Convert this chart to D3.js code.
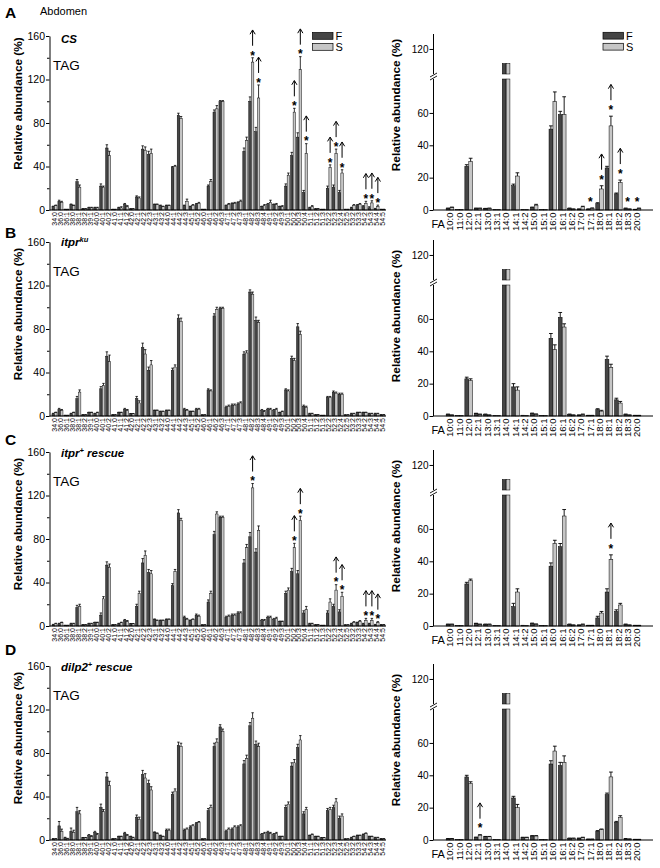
<!DOCTYPE html>
<html>
<head>
<meta charset="utf-8">
<script src="https://cdn.jsdelivr.net/npm/d3@7"></script>
<style>
body { margin: 0; background: #fff; }
svg text { font-family: "Liberation Sans", Arial, sans-serif; fill: #000; }
</style>
</head>
<body>
<svg id="fig" width="660" height="868"></svg>
<script>
// ---------- categories ----------
let tagLabels = ["34:0","36:0","36:1","38:0","38:1","38:2","39:1","40:0",
  "40:1","40:2","41:0","41:1","41:2","42:0","42:1","42:2",
  "42:3","43:1","43:2","44:0","44:1","44:2","44:3","45:1",
  "45:2","46:0","46:1","46:2","46:3","47:1","47:2","47:3",
  "48:1","48:2","48:3","48:4","49:1","49:2","49:3","50:1",
  "50:2","50:3","50:4","51:1","51:2","51:3","52:2","52:3",
  "52:4","52:5","53:2","53:3","54:2","54:3","54:4","54:5"];
let faLabels = ["10:0","11:0","12:0","12:1","13:0","13:1","14:0","14:1","14:2","15:0","15:1",
  "16:0","16:1","16:2","17:0","17:1","18:0","18:1","18:2","18:3","20:0"];
let tagTicks = [0, 40, 80, 120, 160];
let tagMinor = [20, 60, 100, 140];
let faTicksLow = [0, 20, 40, 60];
let faTicksHigh = [120];

// ---------- A : CS ----------
let tagA_F = [3, 8, 0.5, 5, 26, 1, 2, 2,   22, 57, 0.5, 2, 5, 1, 12, 56,
  51, 5, 4, 4, 39, 87, 4, 3,   5, 0.5, 22, 90, 99.6, 4, 6, 7,
  54, 100, 72, 3, 5, 5, 3, 22,   50, 67, 16, 2, 1, 0.5, 20, 21,   16, 0.5, 2, 4, 3, 2, 1, 0.5];
let tagA_S = [4, 7, 0.5, 4, 21, 1, 2, 2,   21, 50, 0.5, 2, 3, 1, 11, 55,
  52, 5, 3, 4, 40, 84, 8, 4,   6, 0.5, 26, 93, 99.6, 5, 6, 8,
  64, 136, 103, 4, 7, 5, 3, 32,   90, 129, 52, 3, 1, 0.5, 39, 52,   34, 0.5, 4, 5, 6, 6.5, 3, 0.5];
let tagA_Fe = [0.5, 1, 0.2, 0.5, 2, 0.3, 0.5, 0.5,   2, 3, 0.2, 0.5, 1, 0.3, 1, 3,
  3, 0.5, 0.5, 0.5, 1, 2, 0.5, 0.5,   1, 0.2, 1, 2, 1, 0.5, 0.5, 0.5,
  3, 4, 4, 0.5, 1, 0.5, 0.5, 2,   3, 4, 2, 0.5, 0.3, 0.2, 2, 2,   2, 0.2, 0.5, 1, 1, 1, 0.5, 0.2];
let tagA_Se = [0.5, 1, 0.2, 0.5, 2, 0.3, 0.5, 0.5,   1, 4, 0.2, 1, 1, 0.3, 1, 3,
  4, 0.5, 0.5, 0.5, 1, 2, 2, 1,   1, 0.2, 2, 3, 1, 1, 1, 1,
  3, 4, 12, 1, 2, 1, 1, 2,   3.5, 12, 9, 1, 0.3, 0.2, 2.5, 4,   3, 0.2, 1, 1, 2, 2, 1.5, 0.2];
let faA_F = [1, 0.2, 27, 1, 0.8, 0.3, 111, 15, 0.3, 1.5, 0.2, 50, 59, 1, 0.5, 0.5, 4, 26, 10, 1, 0.3];
let faA_S = [1.5, 0.2, 30, 1, 1, 0.3, 111, 21, 0.3, 3, 0.2, 67, 59, 0.5, 2, 1, 13, 52, 17, 0.5, 1];
let faA_Fe = [0.2, 0, 1, 0.2, 0.2, 0, 0, 1, 0, 0.3, 0, 2, 2, 0.2, 0.2, 0.2, 0.5, 1, 0.5, 0.2, 0.1];
let faA_Se = [0.3, 0, 2, 0.2, 0.2, 0, 0, 2, 0, 0.5, 0, 6, 11, 0.2, 0.3, 0.3, 2, 6, 1.5, 0.2, 0.2];
let tagA_marks = [33, 34, 40, 41, 42, 46, 47, 48, 52, 53, 54];
let faA_marks = [16, 17, 18];
let faA_stars = [15, 19, 20];

// ---------- B : itpr ku ----------
let tagB_F = [2, 6, 0.5, 2, 16, 1, 3, 2,   25, 55, 1, 3, 6, 2, 16, 63,
  42, 5, 4, 5, 42, 90, 6, 4,   6, 1, 24, 92, 99, 8, 10, 11,
  57, 114, 88, 5, 6, 5, 3, 24,   53, 82, 9, 2, 1, 0.5, 17, 22,   20, 1, 2, 3, 3, 2, 2, 1];
let tagB_S = [3, 5, 0.5, 3, 22, 1, 3, 3,   28, 50, 1, 3, 5, 2, 12, 57,
  47, 5, 4, 5, 45, 87, 5, 4,   6, 1, 23, 98, 99, 9, 10, 12,
  58, 112, 86, 4, 6, 6, 4, 23,   51, 75, 8, 2, 1, 0.5, 17, 21,   20, 1, 2, 3, 3, 2, 2, 1];
let tagB_Fe = [0.5, 1, 0.2, 0.5, 2, 0.3, 0.5, 0.5,   2, 4, 0.3, 0.5, 1, 0.3, 2, 4,
  3, 0.5, 0.5, 0.5, 2, 3, 1, 0.5,   1, 0.2, 1, 2, 1, 1, 1, 1,
  2, 2, 3, 1, 1, 1, 0.5, 1,   2, 3, 1, 0.5, 0.3, 0.2, 1, 1,   1, 0.2, 0.5, 0.5, 0.5, 0.5, 0.5, 0.3];
let tagB_Se = [0.5, 1, 0.2, 0.5, 2, 0.3, 0.5, 0.5,   2, 6, 0.3, 0.5, 1, 0.3, 2, 4,
  4, 0.5, 0.5, 0.5, 2, 3, 1, 0.5,   1, 0.2, 1, 2, 1, 1, 1, 1,
  2, 2, 2, 1, 1, 1, 0.5, 1,   2, 3, 1, 0.5, 0.3, 0.2, 1, 1,   1, 0.2, 0.5, 0.5, 0.5, 0.5, 0.5, 0.3];
let faB_F = [1, 0.2, 23, 1.5, 1, 0.3, 111, 18, 0.5, 1.5, 0.3, 48, 61, 1, 0.5, 0.3, 4, 35, 10, 1, 0.3];
let faB_S = [0.5, 0.2, 22, 1, 0.5, 0.3, 111, 16, 0.3, 1, 0.3, 41, 55, 0.5, 1, 0.3, 3, 30, 8, 0.5, 0.3];
let faB_Fe = [0.2, 0, 1, 0.2, 0.2, 0, 0, 2, 0, 0.3, 0, 3, 3, 0.2, 0.2, 0.1, 0.5, 2, 1, 0.2, 0.1];
let faB_Se = [0.2, 0, 1, 0.2, 0.2, 0, 0, 2, 0, 0.3, 0, 3, 2, 0.2, 0.2, 0.1, 0.5, 2, 1, 0.2, 0.1];
let tagB_marks = [];
let faB_marks = [];
let faB_stars = [];

// ---------- C : itpr+ rescue ----------
let tagC_F = [1, 2, 0.5, 2, 17, 1, 2, 3,   10, 56, 1, 2, 5, 2, 18, 58,
  49, 6, 5, 6, 37, 104, 8, 5,   10, 1, 22, 84, 100, 8, 10, 12,
  58, 82, 68, 5, 8, 6, 4, 30,   50, 48, 12, 2, 1, 0.5, 12, 18,   13, 1, 2, 3, 2, 2, 1, 1];
let tagC_S = [2, 3, 0.5, 2, 18, 1, 2, 3,   25, 54, 1, 3, 4, 2, 30, 65,
  48, 5, 5, 6, 50, 97, 6, 6,   9, 1, 30, 103, 100, 9, 10, 12,
  72, 127, 88, 5, 8, 7, 4, 33,   72, 97, 15, 2, 1, 0.5, 22, 33,   27, 1, 3, 4, 5, 5, 3, 1];
let tagC_Fe = [0.5, 0.5, 0.2, 0.5, 2, 0.3, 0.5, 0.5,   2, 3, 0.3, 0.5, 1, 0.3, 2, 4,
  3, 0.5, 0.5, 0.5, 2, 3, 1, 0.5,   1, 0.2, 2, 3, 1, 1, 1, 1,
  3, 4, 3, 1, 1, 1, 0.5, 2,   3, 3, 2, 0.5, 0.3, 0.2, 2, 2,   2, 0.2, 0.5, 0.5, 0.5, 0.5, 0.5, 0.3];
let tagC_Se = [0.5, 0.5, 0.2, 0.5, 2, 0.3, 0.5, 0.5,   2, 3, 0.3, 0.5, 1, 0.3, 2, 4,
  3, 0.5, 0.5, 0.5, 2, 2, 1, 0.5,   1, 0.2, 2, 2, 1, 1, 1, 1,
  3, 4, 4, 1, 1, 1, 0.5, 2,   4, 4, 3, 0.5, 0.3, 0.2, 3, 5,   4, 0.2, 1, 1, 2, 2, 1, 0.3];
let faC_F = [1, 0.2, 26, 1.5, 1, 0.3, 111, 12, 0.5, 1.5, 0.3, 37, 49, 1, 0.5, 0.3, 5, 21, 9, 1, 0.3];
let faC_S = [1, 0.2, 28, 1, 1, 0.3, 111, 21, 0.3, 1, 0.3, 51, 68, 0.5, 1, 0.3, 8, 41, 13, 0.5, 0.3];
let faC_Fe = [0.2, 0, 1, 0.2, 0.2, 0, 0, 2, 0, 0.3, 0, 2, 2, 0.2, 0.2, 0.1, 1, 2, 1, 0.2, 0.1];
let faC_Se = [0.2, 0, 1, 0.2, 0.2, 0, 0, 2, 0, 0.3, 0, 2, 4, 0.2, 0.2, 0.1, 1, 3, 1, 0.2, 0.1];
let tagC_marks = [33, 40, 41, 47, 48, 52, 53, 54];
let faC_marks = [17];
let faC_stars = [];

// ---------- D : dilp2+ rescue ----------
let tagD_F = [1, 13, 2, 8, 26, 2, 4, 7,   30, 58, 1, 3, 6, 3, 21, 60,
  52, 7, 4, 9, 42, 87, 9, 12,   15, 1, 27, 86, 104, 8, 10, 12,
  70, 105, 88, 5, 7, 5, 3, 30,   68, 85, 24, 4, 3, 2, 27, 30,   20, 1, 2, 4, 5, 3, 2, 1];
let tagD_S = [1, 8, 1, 7, 24, 2, 3, 5,   26, 50, 1, 3, 4, 2, 19, 57,
  46, 6, 3, 9, 45, 86, 10, 13,   16, 1, 30, 90, 100, 10, 12, 13,
  75, 112, 86, 6, 6, 6, 3, 33,   71, 92, 28, 5, 3, 2, 28, 35,   22, 1, 3, 4, 6, 3, 2, 1];
let tagD_Fe = [0.3, 4, 0.5, 3, 4, 0.3, 1, 1,   3, 4, 0.3, 0.5, 1, 0.5, 2, 4,
  3, 0.5, 0.5, 1, 2, 3, 1, 1,   1, 0.2, 2, 3, 2, 1, 1, 1,
  3, 3, 3, 1, 1, 1, 0.5, 2,   3, 3, 2, 0.5, 0.5, 0.3, 2, 2,   2, 0.2, 0.5, 0.5, 0.5, 0.5, 0.5, 0.3];
let tagD_Se = [0.3, 2, 0.5, 2, 3, 0.3, 1, 1,   2, 4, 0.3, 0.5, 1, 0.5, 2, 4,
  3, 0.5, 0.5, 1, 2, 3, 1, 1,   1, 0.2, 2, 3, 2, 1, 1, 1,
  3, 5, 3, 1, 1, 1, 0.5, 2,   3, 4, 2, 0.5, 0.5, 0.3, 2, 3,   2, 0.2, 0.5, 0.5, 0.5, 0.5, 0.5, 0.3];
let faD_F = [0.7, 0.2, 39, 1.5, 2, 0.3, 111, 26, 1.5, 2.5, 0.3, 47, 46, 1, 1, 0.5, 5.5, 28, 11, 0.7, 0.3];
let faD_S = [0.7, 0.2, 35, 3, 2, 0.3, 111, 20, 1.5, 2.5, 0.3, 55, 48, 1, 1.5, 0.5, 6.5, 39, 14, 0.5, 0.3];
let faD_Fe = [0.2, 0, 1, 0.3, 0.2, 0, 0, 1, 0.2, 0.2, 0, 2, 2, 0.2, 0.2, 0.1, 0.3, 1, 0.5, 0.2, 0.1];
let faD_Se = [0.2, 0, 1, 0.3, 0.2, 0, 0, 2, 0.2, 0.2, 0, 3, 4, 0.2, 0.2, 0.1, 0.3, 3, 1, 0.2, 0.1];
let tagD_marks = [];
let faD_marks = [3];
let faD_stars = [];

// ---------- figure ----------
const svg = d3.select("#fig");
const darkGrey = "#454545", lightGrey = "#c6c6c6";
const fills = [darkGrey, lightGrey];

let panels = [
  {letter: "A", letterY: 18, top: 36, geno: [["CS", ""]], genoY: 43, tagTitle: 103.5, faTitle: 105,
   tag: [tagA_F, tagA_S, tagA_Fe, tagA_Se], fa: [faA_F, faA_S, faA_Fe, faA_Se],
   tagMarks: tagA_marks, faMarks: faA_marks, faStars: faA_stars, legend: true},
  {letter: "B", letterY: 238, top: 242, geno: [["itpr", "ku"]], genoY: 246, tagTitle: 314, faTitle: 316,
   tag: [tagB_F, tagB_S, tagB_Fe, tagB_Se], fa: [faB_F, faB_S, faB_Fe, faB_Se],
   tagMarks: tagB_marks, faMarks: faB_marks, faStars: faB_stars},
  {letter: "C", letterY: 445, top: 452, geno: [["itpr", "+"], [" rescue", ""]], genoY: 457, tagTitle: 524, faTitle: 526,
   tag: [tagC_F, tagC_S, tagC_Fe, tagC_Se], fa: [faC_F, faC_S, faC_Fe, faC_Se],
   tagMarks: tagC_marks, faMarks: faC_marks, faStars: faC_stars},
  {letter: "D", letterY: 655, top: 666, geno: [["dilp2", "+"], [" rescue", ""]], genoY: 671, tagTitle: 738, faTitle: 740,
   tag: [tagD_F, tagD_S, tagD_Fe, tagD_Se], fa: [faD_F, faD_S, faD_Fe, faD_Se],
   tagMarks: tagD_marks, faMarks: faD_marks, faStars: faD_stars}
];

let xTag = d3.scaleBand().domain(tagLabels).range([51.5, 385.5]).paddingInner(0.15).paddingOuter(0.075);
let subTag = d3.scaleBand().domain([0, 1]).range([0, xTag.bandwidth()]).paddingInner(0.05);
let xFa = d3.scaleBand().domain(faLabels).range([445.3, 641.7]).paddingInner(0.18).paddingOuter(0.09);
let subFa = d3.scaleBand().domain([0, 1]).range([0, xFa.bandwidth()]).paddingInner(0.05);

svg.append("text").attr("x", 40).attr("y", 14.5).attr("font-size", 11).text("Abdomen");

function mark(g, cx, cy, arrow) {
  g.append("text").attr("x", cx).attr("y", cy + 6.8)
    .attr("text-anchor", "middle").attr("font-size", 12).attr("font-weight", "bold").text("*");
  if (arrow) {
    g.append("path")
      .attr("d", "M" + cx + "," + (cy - 7) + "V" + (cy - 22.5) +
                 "M" + (cx - 2.6) + "," + (cy - 18.5) + "L" + cx + "," + (cy - 22.8) + "L" + (cx + 2.6) + "," + (cy - 18.5))
      .attr("stroke", "#000").attr("stroke-width", 1).attr("fill", "none");
  }
}

function legend(g, x, y) {
  ["F", "S"].forEach(function (k, i) {
    g.append("rect").attr("x", x).attr("y", y + i * 11).attr("width", 20.5).attr("height", 6.8)
      .attr("fill", fills[i]).attr("stroke", "#000").attr("stroke-width", 0.7);
    g.append("text").attr("x", x + 23).attr("y", y + i * 11 + 7.5).attr("font-size", 11).text(k);
  });
}

function drawTag(p) {
  let g = svg.append("g");
  let base = p.top + 174;
  let y = d3.scaleLinear().domain([0, 160]).range([base, p.top]);

  for (let s = 0; s < 2; s++) {
    let vals = p.tag[s], errs = p.tag[s + 2];
    g.selectAll(null).data(tagLabels).enter().append("rect")
      .attr("x", function (d) { return xTag(d) + subTag(s); })
      .attr("y", function (d, i) { return y(vals[i]); })
      .attr("width", subTag.bandwidth())
      .attr("height", function (d, i) { return base - y(vals[i]); })
      .attr("fill", fills[s]).attr("stroke", "#000").attr("stroke-width", 0.45);
    g.selectAll(null).data(tagLabels).enter().append("path")
      .attr("d", function (d, i) {
        let cx = xTag(d) + subTag(s) + subTag.bandwidth() / 2, w = subTag.bandwidth() / 2;
        let y0 = y(vals[i]), y1 = y(vals[i] + errs[i]);
        return "M" + cx + "," + y0 + "V" + y1 + "M" + (cx - w) + "," + y1 + "H" + (cx + w);
      })
      .attr("stroke", "#000").attr("stroke-width", 0.8).attr("fill", "none");
  }

  p.tagMarks.forEach(function (i) {
    let d = tagLabels[i];
    let cx = xTag(d) + subTag(1) + subTag.bandwidth() / 2;
    mark(g, cx, y(p.tag[1][i] + p.tag[3][i]) - 5, true);
  });

  let yAxis = g.append("g").attr("transform", "translate(49.5,0)")
    .call(d3.axisLeft(y).tickValues(tagTicks).tickSize(3.5).tickPadding(1).tickSizeOuter(0));
  g.append("g").attr("transform", "translate(49.5,0)")
    .call(d3.axisLeft(y).tickValues(tagMinor).tickSize(2.5).tickFormat("").tickSizeOuter(0))
    .select(".domain").remove();
  yAxis.selectAll("text").attr("font-size", 10.5).attr("font-family", "Liberation Sans, Arial, sans-serif");

  let xAxis = g.append("g").attr("transform", "translate(0," + base + ")")
    .call(d3.axisBottom(xTag).tickSize(0).tickPadding(0));
  xAxis.select(".domain").remove();
  xAxis.selectAll("text")
    .attr("transform", "rotate(-90)").attr("text-anchor", "end")
    .attr("x", -2).attr("y", 0).attr("dy", "0.35em")
    .attr("font-size", 7).attr("font-family", "Liberation Sans, Arial, sans-serif");
  g.append("line").attr("x1", 49.5).attr("x2", 386).attr("y1", base).attr("y2", base)
    .attr("stroke", "#000").attr("stroke-width", 1);

  g.append("text").attr("transform", "translate(22," + p.tagTitle + ") rotate(-90)")
    .attr("text-anchor", "middle").attr("font-size", 11.8).attr("font-weight", "bold")
    .text("Relative abundance (%)");

  // genotype label, superscripts raised with dy and dropped back on the next part
  let gt = g.append("text").attr("x", 61).attr("y", p.genoY)
    .attr("font-size", 11.5).attr("font-weight", "bold").attr("font-style", "italic");
  let shift = 0;
  p.geno.forEach(function (part) {
    gt.append("tspan").attr("dy", shift).text(part[0]);
    shift = 0;
    if (part[1]) {
      gt.append("tspan").attr("dy", -4.5).attr("font-size", 7.5).text(part[1]);
      shift = 4.5;
    }
  });
  g.append("text").attr("x", 53).attr("y", p.top + 34).attr("font-size", 13.5).text("TAG");
  svg.append("text").attr("x", 5).attr("y", p.letterY).attr("font-size", 15.5).attr("font-weight", "bold").text(p.letter);
  if (p.legend) legend(g, 312.5, 32.5);
}

function drawFa(p) {
  let g = svg.append("g");
  let base = p.top + 174;
  let yLo = d3.scaleLinear().domain([0, 80]).range([base, base - 129.4]);
  let yUp = d3.scaleLinear().domain([104.5, 130]).range([base - 136, base - 177.2]);
  let brk0 = base - 131, brk1 = base - 136;

  for (let s = 0; s < 2; s++) {
    let vals = p.fa[s], errs = p.fa[s + 2];
    faLabels.forEach(function (d, i) {
      let x0 = xFa(d) + subFa(s), w = subFa.bandwidth(), v = vals[i];
      if (v > 80) {
        g.append("rect").attr("x", x0).attr("y", brk0).attr("width", w).attr("height", base - brk0)
          .attr("fill", fills[s]).attr("stroke", "#000").attr("stroke-width", 0.5);
        g.append("rect").attr("x", x0).attr("y", yUp(v)).attr("width", w).attr("height", brk1 - yUp(v))
          .attr("fill", fills[s]).attr("stroke", "#000").attr("stroke-width", 0.5);
      } else {
        g.append("rect").attr("x", x0).attr("y", yLo(v)).attr("width", w).attr("height", base - yLo(v))
          .attr("fill", fills[s]).attr("stroke", "#000").attr("stroke-width", 0.5);
        if (errs[i] > 0) {
          let cx = x0 + w / 2, y1 = yLo(v + errs[i]);
          g.append("path").attr("d", "M" + cx + "," + yLo(v) + "V" + y1 + "M" + (cx - w / 2) + "," + y1 + "H" + (cx + w / 2))
            .attr("stroke", "#000").attr("stroke-width", 0.9).attr("fill", "none");
        }
      }
    });
  }

  p.faMarks.forEach(function (i) {
    let d = faLabels[i];
    let cx = xFa(d) + subFa(1) + subFa.bandwidth() / 2;
    mark(g, cx, yLo(p.fa[1][i] + p.fa[3][i]) - 9, true);
  });
  p.faStars.forEach(function (i) {
    let d = faLabels[i];
    let cx = xFa(d) + xFa.bandwidth() / 2;
    let top = Math.max(p.fa[0][i] + p.fa[2][i], p.fa[1][i] + p.fa[3][i]);
    mark(g, cx, yLo(top) - 9, false);
  });

  // broken y axis
  let ax = 433.5;
  let lo = g.append("g").attr("transform", "translate(" + ax + ",0)")
    .call(d3.axisLeft(yLo).tickValues(faTicksLow).tickSize(4).tickPadding(1));
  lo.select(".domain").remove();
  let hi = g.append("g").attr("transform", "translate(" + ax + ",0)")
    .call(d3.axisLeft(yUp).tickValues(faTicksHigh).tickSize(4).tickPadding(1));
  hi.select(".domain").remove();
  g.selectAll(".tick text").attr("font-size", 10).attr("font-family", "Liberation Sans, Arial, sans-serif");
  g.append("line").attr("x1", ax).attr("x2", ax).attr("y1", base).attr("y2", brk0).attr("stroke", "#000");
  g.append("line").attr("x1", ax).attr("x2", ax).attr("y1", brk1).attr("y2", base - 176).attr("stroke", "#000");
  g.append("path")
    .attr("d", "M" + (ax - 3.5) + "," + (brk0 + 1) + "L" + (ax + 3.5) + "," + (brk0 - 3) +
               "M" + (ax - 3.5) + "," + (brk1 + 3) + "L" + (ax + 3.5) + "," + (brk1 - 1))
    .attr("stroke", "#000").attr("stroke-width", 0.9).attr("fill", "none");

  let xAxis = g.append("g").attr("transform", "translate(0," + base + ")")
    .call(d3.axisBottom(xFa).tickSize(0).tickPadding(0));
  xAxis.select(".domain").remove();
  xAxis.selectAll("text")
    .attr("transform", "rotate(-90)").attr("text-anchor", "end")
    .attr("x", -2.5).attr("y", 0).attr("dy", "0.35em")
    .attr("font-size", 9.5).attr("font-family", "Liberation Sans, Arial, sans-serif");
  g.append("line").attr("x1", ax).attr("x2", 653).attr("y1", base).attr("y2", base)
    .attr("stroke", "#000").attr("stroke-width", 1);
  g.append("text").attr("x", 431.5).attr("y", base + 17.5).attr("font-size", 11).text("FA");

  g.append("text").attr("transform", "translate(400," + p.faTitle + ") rotate(-90)")
    .attr("text-anchor", "middle").attr("font-size", 11.8).attr("font-weight", "bold")
    .text("Relative abundance (%)");
  if (p.legend) legend(g, 603, 32.3);
}

panels.forEach(function (p) { drawTag(p); drawFa(p); });
</script>
</body>
</html>
